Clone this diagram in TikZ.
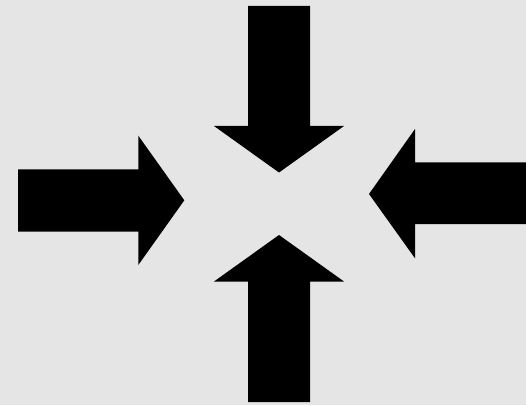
\documentclass[tikz,border=0pt]{standalone}
\usepackage{tikz}

\begin{document}
\begin{tikzpicture}[x=0.02cm,y=-0.02cm,
  bigarrow/.style={fill=black,draw=none}]
  % background, in pixel units (y downwards)
  \fill[black!10] (0,0) rectangle (526,405);
  \useasboundingbox (0,0) rectangle (526,405);

  % down from the top
  \fill[bigarrow] (248,6) -- (310,6) -- (310,126) -- (344,126)
    -- (279,172.5) -- (214,126) -- (248,126) -- cycle;
  % up from the bottom
  \fill[bigarrow] (248,402) -- (310,402) -- (310,281.5) -- (344,281.5)
    -- (279,235) -- (214,281.5) -- (248,281.5) -- cycle;
  % right from the left side
  \fill[bigarrow] (18,169.3) -- (138.3,169.3) -- (138.3,135.7)
    -- (184.3,200.3) -- (138.3,265) -- (138.3,231.7) -- (18,231.7) -- cycle;
  % left from the right side
  \fill[bigarrow] (526,162.3) -- (415,162.3) -- (415,129)
    -- (369,194) -- (415,258.3) -- (415,224) -- (526,224) -- cycle;
\end{tikzpicture}
\end{document}
